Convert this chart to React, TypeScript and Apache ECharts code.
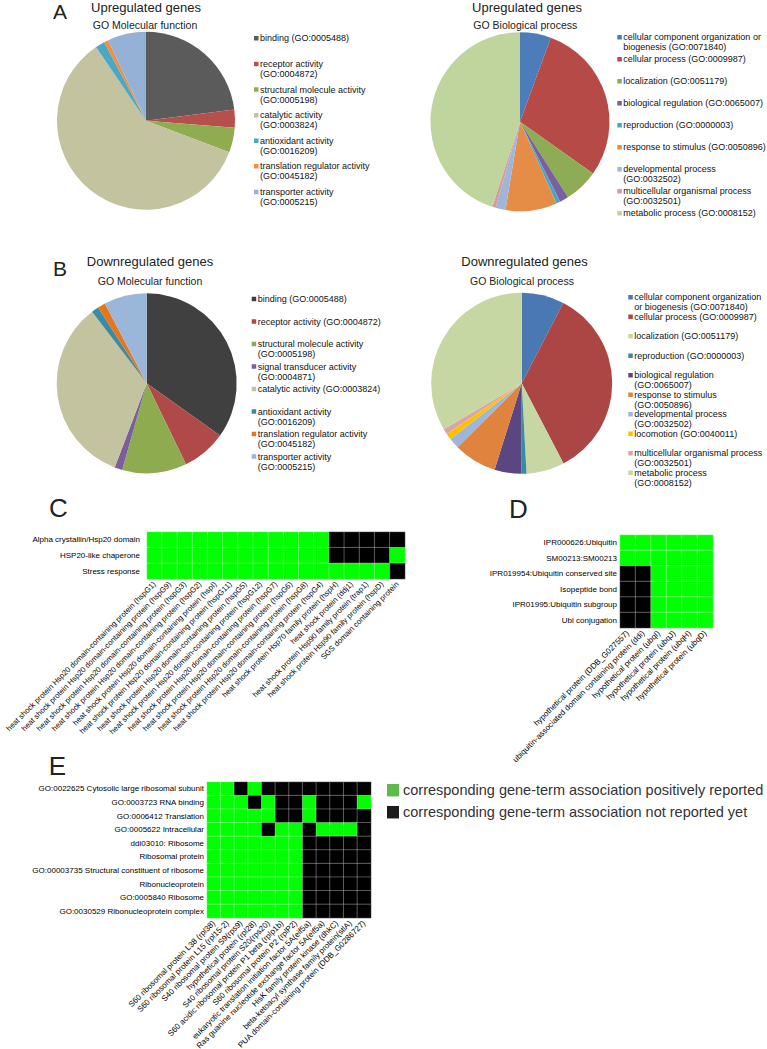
import React, { useEffect, useRef } from "react";
import * as echarts from "echarts";

const FONT = "'Liberation Sans', Arial, Helvetica, sans-serif";

// ---------- Panel A: upregulated genes ----------
const mfUpNames = [
  "binding (GO:0005488)",
  "receptor activity\n(GO:0004872)",
  "structural molecule activity\n(GO:0005198)",
  "catalytic activity\n(GO:0003824)",
  "antioxidant activity\n(GO:0016209)",
  "translation regulator activity\n(GO:0045182)",
  "transporter activity\n(GO:0005215)",
];
const mfUpValues = [23.0, 3.3, 4.5, 59.8, 1.7, 0.8, 7.0];
const mfUpColors = ["#5b5b5b", "#b5504d", "#8fac50", "#c3c39f", "#4aa8c4", "#ef8e46", "#95b1d6"];

const bpUpNames = [
  "cellular component organization or\nbiogenesis (GO:0071840)",
  "cellular process (GO:0009987)",
  "localization (GO:0051179)",
  "biological regulation (GO:0065007)",
  "reproduction (GO:0000003)",
  "response to stimulus (GO:0050896)",
  "developmental process\n(GO:0032502)",
  "multicellular organismal process\n(GO:0032501)",
  "metabolic process (GO:0008152)",
];
const bpUpValues = [5.6, 29.2, 6.2, 1.6, 0.7, 9.3, 1.8, 0.6, 45.0];
const bpUpColors = ["#4c7dba", "#b54a47", "#8dac54", "#7b5f9e", "#45a9c4", "#e58c47", "#9fb5d9", "#d69a99", "#c0d49d"];

// ---------- Panel B: downregulated genes ----------
const mfDownNames = [
  "binding (GO:0005488)",
  "receptor activity (GO:0004872)",
  "structural molecule activity\n(GO:0005198)",
  "signal transducer activity\n(GO:0004871)",
  "catalytic activity (GO:0003824)",
  "antioxidant activity\n(GO:0016209)",
  "translation regulator activity\n(GO:0045182)",
  "transporter activity\n(GO:0005215)",
];
const mfDownValues = [34.9, 8.0, 11.6, 1.4, 33.9, 1.3, 1.4, 7.7];
const mfDownColors = ["#404040", "#b04a48", "#8eac4f", "#7a5f9b", "#c3c39f", "#3a8ba4", "#e6761c", "#9ab6d8"];

const bpDownNames = [
  "cellular component organization\nor biogenesis (GO:0071840)",
  "cellular process (GO:0009987)",
  "localization (GO:0051179)",
  "reproduction (GO:0000003)",
  "biological regulation\n(GO:0065007)",
  "response to stimulus\n(GO:0050896)",
  "developmental process\n(GO:0032502)",
  "locomotion (GO:0040011)",
  "multicellular organismal process\n(GO:0032501)",
  "metabolic process\n(GO:0008152)",
];
const bpDownValues = [7.6, 34.8, 6.8, 0.9, 4.8, 7.7, 1.9, 1.1, 1.0, 33.5];
const bpDownColors = ["#4a78b2", "#ab4644", "#c6d7a4", "#3b8aa3", "#5a4781", "#e0833e", "#9fb5d9", "#ffc000", "#dca5a3", "#c6d7a4"];

// ---------- Panel C ----------
const cGenes = [
  "heat shock protein Hsp20 domain-containing protein (hspG1)",
  "heat shock protein Hsp20 domain-containing protein (hspG9)",
  "heat shock protein Hsp20 domain-containing protein (hspG3)",
  "heat shock protein Hsp20 domain-containing protein (hspG2)",
  "heat shock protein Hsp20 domain-containing protein (hspI)",
  "heat shock protein Hsp20 domain-containing protein (hspG11)",
  "heat shock protein Hsp20 domain-containing protein (hspG5)",
  "heat shock protein Hsp20 domain-containing protein (hspG12)",
  "heat shock protein Hsp20 domain-containing protein (hspG7)",
  "heat shock protein Hsp20 domain-containing protein (hspG6)",
  "heat shock protein Hsp20 domain-containing protein (hspG8)",
  "heat shock protein Hsp20 domain-containing protein (hspG4)",
  "heat shock protein Hsp70 family protein (hspH)",
  "heat shock protein (ddj1)",
  "heat shock protein Hsp90 family protein (trap1)",
  "heat shock protein Hsp90 family protein (hspD)",
  "SGS domain containing protein",
];
const cTerms = ["Alpha crystallin/Hsp20 domain", "HSP20-like chaperone", "Stress response"];
const cMatrix = [
  [1, 1, 1, 1, 1, 1, 1, 1, 1, 1, 1, 1, 0, 0, 0, 0, 0],
  [1, 1, 1, 1, 1, 1, 1, 1, 1, 1, 1, 1, 0, 0, 0, 0, 1],
  [1, 1, 1, 1, 1, 1, 1, 1, 1, 1, 1, 1, 1, 1, 1, 1, 0],
];

// ---------- Panel D ----------
const dGenes = [
  "hypothetical protein (DDB_G027557)",
  "ubiquitin-associated domain containing protein (ddi)",
  "hypothetical protein (ubqI)",
  "hypothetical protein (ubqJ)",
  "hypothetical protein (ubqH)",
  "hypothetical protein (ubqD)",
];
const dTerms = [
  "IPR000626:Ubiquitin",
  "SM00213:SM00213",
  "IPR019954:Ubiquitin conserved site",
  "Isopeptide bond",
  "IPR01995:Ubiquitin subgroup",
  "Ubl conjugation",
];
const dMatrix = [
  [1, 1, 1, 1, 1, 1],
  [1, 1, 1, 1, 1, 1],
  [0, 0, 1, 1, 1, 1],
  [0, 0, 1, 1, 1, 1],
  [0, 0, 1, 1, 1, 1],
  [0, 0, 1, 1, 1, 1],
];

// ---------- Panel E ----------
const eGenes = [
  "S60 ribosomal protein L38 (rpl38)",
  "S60 ribosomal protein L15 (rpl15-2)",
  "S40 ribosomal protein S9(rps9)",
  "hypothetical protein (rpl28)",
  "S40 ribosomal protein S20(rps20)",
  "S60 acidic ribosomal protein P1 beta (rplp1b)",
  "S60 ribosomal protein P2 (rplP2)",
  "eukaryotic translation initiation factor 5A(eif5a)",
  "Ras guanine nucleotide exchange factor 5A(eif5a)",
  "HisK family protein kinase (dhkC)",
  "beta-ketoacyl synthase family protein(stlA)",
  "PUA domain-containing protein (DDB_G0286727)",
];
const eTerms = [
  "GO:0022625 Cytosolic large ribosomal subunit",
  "GO:0003723 RNA binding",
  "GO:0006412 Translation",
  "GO:0005622 Intracellular",
  "ddi03010: Ribosome",
  "Ribosomal protein",
  "GO:00003735 Structural constituent of ribosome",
  "Ribonucleoprotein",
  "GO:0005840 Ribosome",
  "GO:0030529 Ribonucleoprotein complex",
];
const eMatrix = [
  [1, 1, 0, 1, 0, 0, 0, 0, 0, 0, 0, 0],
  [1, 1, 1, 0, 1, 0, 0, 1, 0, 0, 0, 1],
  [1, 1, 1, 1, 1, 0, 0, 1, 0, 0, 0, 0],
  [1, 1, 1, 1, 0, 1, 1, 0, 1, 1, 1, 0],
  [1, 1, 1, 1, 1, 1, 1, 0, 0, 0, 0, 0],
  [1, 1, 1, 1, 1, 1, 1, 0, 0, 0, 0, 0],
  [1, 1, 1, 1, 1, 1, 1, 0, 0, 0, 0, 0],
  [1, 1, 1, 1, 1, 1, 1, 0, 0, 0, 0, 0],
  [1, 1, 1, 1, 1, 1, 1, 0, 0, 0, 0, 0],
  [1, 1, 1, 1, 1, 1, 1, 0, 0, 0, 0, 0],
];
const assocLabels = [
  "corresponding gene-term association positively reported",
  "corresponding gene-term association not reported yet",
];

const ICON = "path://M0,0L4.5,0ZM0,2.8L4.5,2.8L4.5,7.3L0,7.3ZM0,20L4.5,20Z";

function pieSeries(names: string[], values: number[], colors: string[], cx: number, cy: number, r: number) {
  return {
    type: "pie",
    center: [cx, cy],
    radius: [0, r],
    startAngle: 90,
    clockwise: true,
    silent: true,
    avoidLabelOverlap: false,
    label: { show: false },
    labelLine: { show: false },
    itemStyle: { borderWidth: 0 },
    emphasis: { disabled: true },
    data: names.map((n, i) => ({ name: n, value: values[i], itemStyle: { color: colors[i] } })),
  };
}

function pieLegend(names: string[], colors: string[], left: number, top: number, gap: number) {
  return {
    orient: "vertical",
    left,
    top,
    padding: 0,
    itemGap: gap,
    itemWidth: 4.5,
    itemHeight: 20,
    icon: ICON,
    selectedMode: false,
    itemStyle: { borderWidth: 0 },
    textStyle: { fontSize: 9, lineHeight: 10, color: "#111", fontFamily: FONT, padding: [0, 0, 0, -3.5] },
    formatter: (n: string) => (n.indexOf("\n") >= 0 ? n : n + "\n "),
    data: names.map((n, i) => ({ name: n, itemStyle: { color: colors[i] } })),
  };
}

function heatSeries(matrix: number[][], idx: number) {
  const data: number[][] = [];
  matrix.forEach((row, r) => row.forEach((v, c) => data.push([c, r, v])));
  return {
    type: "heatmap",
    xAxisIndex: idx,
    yAxisIndex: idx,
    data,
    silent: true,
    itemStyle: { borderColor: "rgba(255,255,255,0.3)", borderWidth: 1 },
    emphasis: { disabled: true },
  };
}

function txt(text: string, x: number, y: number, size: number) {
  return {
    type: "text",
    x,
    y,
    style: { text, fontSize: size, fontFamily: FONT, fill: "#222", align: "center", verticalAlign: "middle" },
  };
}

export default function App() {
  const ref = useRef<HTMLDivElement>(null);
  useEffect(() => {
    const chart = echarts.init(ref.current!, null, { renderer: "svg" });
    const xLabelSizes = [7.7, 8, 8];
    const yMargins = [7, 3, 3];
    const option: any = {
      animation: false,
      backgroundColor: "#fff",
      graphic: [
        txt("A", 60, 11, 21),
        txt("B", 60, 268, 21),
        txt("C", 58.5, 508, 26),
        txt("D", 518.5, 508.5, 26),
        txt("E", 57.5, 766, 26),
        txt("Upregulated genes", 146, 7.5, 13),
        txt("GO Molecular function", 145, 25.4, 10.5),
        txt("Upregulated genes", 527, 7.5, 13),
        txt("GO Biological process", 525.3, 25.3, 10.5),
        txt("Downregulated genes", 150, 261.7, 13),
        txt("GO Molecular function", 150, 281.3, 10.5),
        txt("Downregulated genes", 524.5, 261.7, 13),
        txt("GO Biological process", 522, 281.3, 10.5),
      ],
      legend: [
        pieLegend(mfUpNames, mfUpColors, 254, 33.3, 5.6),
        pieLegend(bpUpNames, bpUpColors, 617.3, 32.3, 2),
        pieLegend(mfDownNames, mfDownColors, 251.7, 294, 2.5),
        pieLegend(bpDownNames, bpDownColors, 628.3, 292.3, -0.5),
      ],
      grid: [
        { left: 147, top: 532, width: 258, height: 47, outerBoundsMode: "none" },
        { left: 620, top: 535, width: 93, height: 93, outerBoundsMode: "none" },
        { left: 207, top: 782, width: 164, height: 136, outerBoundsMode: "none" },
      ],
      xAxis: [cGenes, dGenes, eGenes].map((d, i) => ({
        type: "category",
        gridIndex: i,
        data: d,
        axisLine: { show: false },
        axisTick: { show: false },
        splitLine: { show: false },
        axisLabel: { interval: 0, rotate: 45, fontSize: xLabelSizes[i], color: "#000", margin: 4, fontFamily: FONT },
      })),
      yAxis: [cTerms, dTerms, eTerms].map((d, i) => ({
        type: "category",
        gridIndex: i,
        data: d,
        inverse: true,
        axisLine: { show: false },
        axisTick: { show: false },
        splitLine: { show: false },
        axisLabel: { interval: 0, fontSize: 8, color: "#000", margin: yMargins[i], fontFamily: FONT },
      })),
      visualMap: {
        type: "piecewise",
        seriesIndex: [4, 5, 6],
        dimension: 2,
        orient: "vertical",
        align: "left",
        left: 387,
        top: 782.7,
        padding: 0,
        itemWidth: 12,
        itemHeight: 12.5,
        itemGap: 7,
        textGap: 4,
        itemSymbol: "rect",
        selectedMode: false,
        pieces: [
          { value: 1, label: assocLabels[0] },
          { value: 0, label: assocLabels[1] },
        ],
        target: { inRange: { color: ["#000000", "#00ff00"] } },
        controller: { inRange: { color: ["#1c1c1c", "#5fba4c"] } },
        textStyle: { fontSize: 14.5, color: "#333", fontFamily: FONT },
      },
      series: [
        pieSeries(mfUpNames, mfUpValues, mfUpColors, 146, 120.7, 89),
        pieSeries(bpUpNames, bpUpValues, bpUpColors, 520, 121.7, 89.5),
        pieSeries(mfDownNames, mfDownValues, mfDownColors, 146.7, 383.3, 90),
        pieSeries(bpDownNames, bpDownValues, bpDownColors, 521.7, 383.3, 90.5),
        heatSeries(cMatrix, 0),
        heatSeries(dMatrix, 1),
        heatSeries(eMatrix, 2),
      ],
    };
    chart.setOption(option);
    return () => chart.dispose();
  }, []);
  return (
    <div
      ref={ref}
      style={{ position: "fixed", left: 0, top: 0, width: 767, height: 1049, background: "#fff" }}
    />
  );
}
